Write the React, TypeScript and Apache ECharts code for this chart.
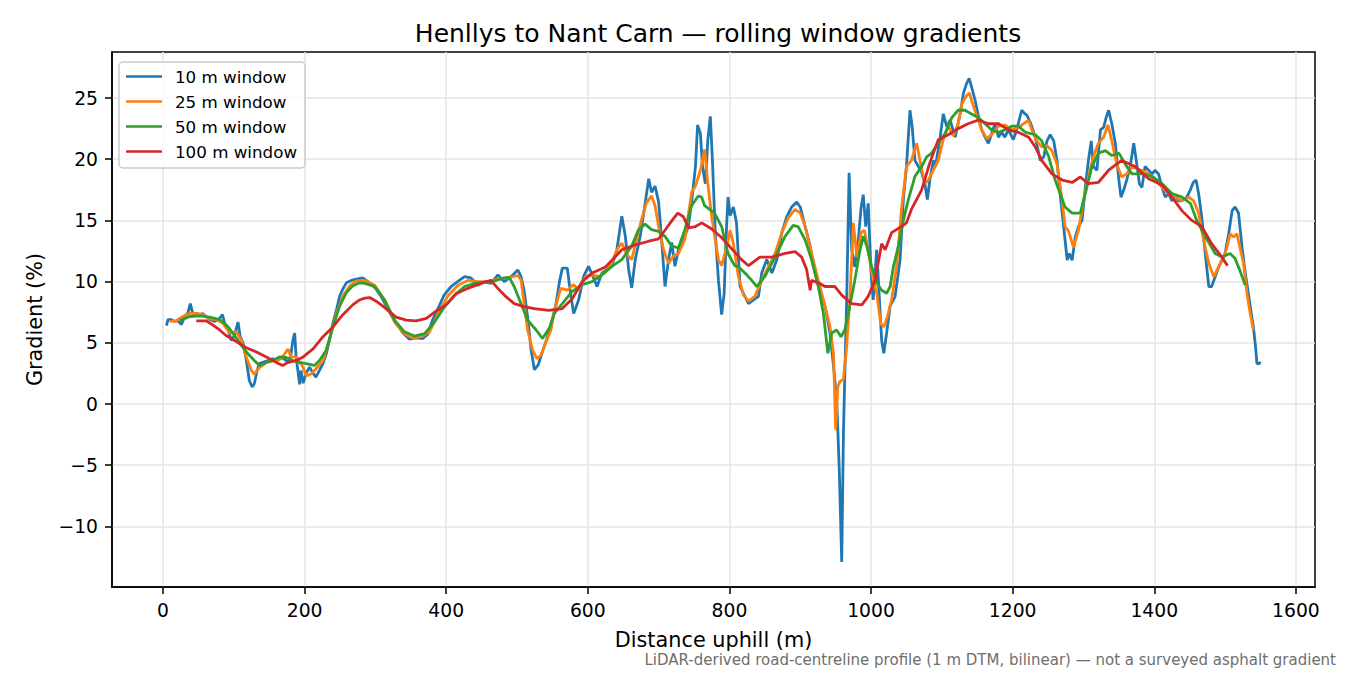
import React, { useEffect, useRef } from 'react';
import * as echarts from 'echarts';

// 10 m rolling window
const dist10 = [
  5, 7, 12, 16, 21, 26, 31, 35, 38.6, 42, 47, 52, 56, 61, 66, 73, 80, 84, 87, 92, 96.5, 101, 106, 109, 113,
  117.6, 122, 126, 129, 133, 136, 141, 148, 155, 162, 167, 174, 179, 183.5, 186, 188, 193, 195, 198, 202,
  207, 212, 216, 221, 226, 230.6, 235, 240, 245, 249.5, 254, 259, 266, 273, 282, 292, 301, 310, 320, 329,
  339, 348, 358, 367, 374, 381, 390, 397, 407, 416, 426, 435, 444.6, 454, 463, 473, 482, 491.6, 501, 505.7,
  510, 515, 520, 524.5, 530, 536, 542, 548, 554.6, 560, 564, 571, 575.6, 580, 587, 594, 601, 606, 613, 620,
  627, 634, 641, 648, 653, 657.6, 662, 667, 674, 679, 686, 690, 695, 700, 704.5, 709, 714, 718.5, 723, 728,
  735, 742, 747, 752, 755, 759, 762, 766, 769.5, 773, 776, 780, 784.5, 789, 792.5, 796, 798, 801, 805.6, 810,
  815, 820, 827, 834, 841, 845.6, 852.7, 860, 867, 874, 881, 888, 895, 900, 907, 914, 921, 928, 935, 942,
  947, 951.5, 955, 958.6, 961, 963, 965.6, 969, 972.7, 977, 982, 986, 989, 992.5, 996, 1000, 1003, 1008,
  1015, 1018, 1022, 1027, 1034, 1041, 1045.6, 1050, 1055, 1058, 1062, 1067, 1071.6, 1076, 1079.5, 1083,
  1088, 1091, 1097.6, 1102, 1107, 1111.7, 1118.8, 1125.8, 1130.5, 1135, 1138.6, 1142, 1147, 1151.7, 1156.3,
  1161, 1165.7, 1170.4, 1175, 1180, 1184.5, 1189, 1194, 1201, 1205.7, 1212.7, 1217.5, 1220, 1225, 1232,
  1239, 1244, 1248.5, 1253, 1258, 1262.6, 1267, 1272, 1277, 1280, 1284, 1288.5, 1293, 1298, 1302.6, 1307,
  1311, 1314, 1319, 1324, 1328.5, 1332, 1335.5, 1340, 1345, 1350, 1353, 1357, 1361, 1366, 1371, 1374.6,
  1379, 1382.6, 1387, 1392, 1397, 1401, 1406, 1411, 1415.5, 1420, 1425, 1429.6, 1434, 1439, 1446, 1451,
  1455, 1459, 1462.6, 1467, 1472, 1477, 1481, 1486, 1491, 1495.5, 1500, 1505, 1510, 1514, 1519, 1524,
  1528.5, 1533, 1537, 1540, 1543, 1545, 1548, 1550,
];
const grad10 = [
  6.4, 6.9, 6.9, 6.75, 6.8, 6.5, 7.2, 7.4, 8.2, 7.4, 7.4, 7.3, 7.4, 7.15, 6.9, 6.75, 7.0, 7.3, 6.6, 6.05, 5.2,
  5.6, 6.7, 5.5, 5.0, 3.6, 1.9, 1.4, 1.65, 2.75, 3.3, 3.4, 3.55, 3.7, 3.55, 3.85, 3.55, 3.4, 5.2, 5.8, 3.85,
  1.6, 2.75, 1.7, 2.5, 3.0, 2.5, 2.2, 2.75, 3.3, 4.1, 5.2, 6.6, 7.7, 8.8, 9.4, 9.9, 10.1, 10.2, 10.3, 9.9,
  9.4, 8.6, 7.5, 6.6, 5.8, 5.3, 5.4, 5.35, 5.7, 6.9, 8.0, 8.9, 9.6, 10.0, 10.4, 10.3, 9.7, 10.0, 9.86,
  10.55, 10.0, 10.4, 10.95, 10.4, 9.3, 7.1, 4.4, 2.8, 3.2, 4.3, 5.3, 6.5, 8.0, 10.0, 11.1, 11.1, 9.05, 7.4,
  8.5, 10.4, 11.25, 10.6, 9.6, 10.7, 11.0, 11.25, 12.6, 15.35, 13.7, 11.0, 9.5, 11.8, 13.7, 15.6, 18.4,
  17.3, 17.8, 16.5, 13.2, 9.6, 11.8, 13.2, 11.25, 12.6, 13.4, 14.5, 16.7, 19.4, 22.8, 22.1, 19.4, 18.0,
  21.6, 23.5, 19.9, 14.0, 10.1, 7.3, 9.0, 14.5, 16.9, 15.4, 16.1, 14.8, 9.6, 9.0, 8.2, 8.5, 8.8, 10.7, 11.8,
  10.7, 11.8, 14.0, 15.3, 16.1, 16.5, 16.1, 14.5, 12.9, 10.7, 9.05, 8.0, 5.8, 3.1, 0.35, -5.1, -12.9, -2.4,
  2.5, 8.5, 18.9, 12.6, 11.2, 13.4, 16.1, 17.1, 14.5, 16.4, 10.7, 8.5, 12.6, 5.2, 4.15, 5.8, 8.0, 8.8, 11.8,
  16.7, 19.4, 24.0, 22.7, 19.9, 19.4, 18.9, 18.0, 16.7, 18.3, 19.9, 19.4, 21.8, 23.7, 22.65, 23.2, 21.8,
  23.7, 25.4, 26.2, 26.6, 25.9, 24.8, 23.5, 22.4, 21.8, 21.3, 22.1, 22.9, 21.8, 22.2, 21.8, 22.4, 21.6,
  22.4, 24.0, 23.7, 23.6, 23.0, 21.8, 19.9, 20.2, 21.5, 22.0, 21.5, 19.9, 17.2, 14.5, 11.75, 12.3, 11.75,
  13.65, 14.5, 15.0, 17.7, 19.9, 21.5, 19.4, 19.1, 22.4, 22.6, 23.4, 24.0, 22.9, 21.3, 18.3, 16.9, 17.5,
  18.3, 19.4, 21.3, 19.9, 18.0, 17.7, 19.4, 19.1, 18.8, 19.1, 18.8, 17.7, 16.9, 17.2, 16.6, 16.9, 16.6,
  16.6, 16.9, 17.5, 18.1, 18.3, 17.2, 15.3, 12.3, 9.6, 9.6, 10.4, 11.2, 11.75, 12.3, 13.9, 15.8, 16.1, 15.6,
  12.8, 10.7, 9.0, 7.4, 6.3, 4.7, 3.3, 3.3, 3.45,
];

// 25 m rolling window
const dist25 = [
  9.4, 19, 28, 37.6, 47, 56.5, 66, 75, 84.7, 94, 103.5, 110.6, 117.6, 124.7, 129, 136.5, 146, 157.6, 167,
  176.5, 181, 188, 198, 202, 209, 216.5, 226, 235, 245, 254, 263.5, 273, 285, 299, 313, 327, 341, 353,
  364.7, 376.5, 388, 402, 416.5, 430.5, 444.6, 459, 473, 487, 501, 505.7, 510, 515, 522, 528, 534, 541, 548,
  552, 561.6, 571, 580, 587, 596.7, 606, 615.5, 625, 634, 641, 648, 655, 662, 669, 676, 683, 690, 695, 700,
  707, 714, 721, 728, 737, 746.6, 752, 759, 765, 769.5, 775, 780, 784.5, 789, 795, 801, 805.6, 812.7, 820,
  827, 836, 845.6, 855, 864.5, 874, 883, 892.7, 900, 907, 916, 925.6, 935, 942, 947, 950, 953, 956, 961,
  965.6, 970, 975, 980, 986, 990.6, 995, 1001, 1008, 1013.6, 1018, 1023, 1029, 1036, 1043, 1050, 1057,
  1064.5, 1069, 1076, 1081, 1088, 1095, 1102, 1109, 1116, 1123, 1128, 1135, 1139, 1142, 1149.4, 1156.3,
  1163.3, 1170.4, 1180, 1189, 1198.5, 1204, 1213, 1222.6, 1227, 1234, 1241, 1248.5, 1255.5, 1262.6, 1270,
  1274, 1279, 1286, 1293, 1300, 1307, 1314, 1321, 1328.5, 1334.6, 1340, 1347, 1354, 1361, 1368.5, 1375.5,
  1382.6, 1392, 1401, 1411, 1420, 1429.6, 1439, 1448.6, 1455.5, 1462.6, 1469.6, 1477, 1484, 1491, 1498,
  1502.6, 1507, 1512, 1516.7, 1521, 1526, 1531, 1535.5, 1540,
];
const grad25 = [
  6.75, 6.8, 7.15, 7.4, 7.4, 7.3, 6.95, 6.9, 6.6, 5.8, 5.9, 5.2, 3.85, 2.75, 2.45, 3.0, 3.4, 3.55, 3.7, 4.5,
  3.85, 3.85, 3.0, 2.3, 2.45, 2.9, 3.55, 5.2, 7.4, 8.8, 9.65, 10.05, 10.1, 9.7, 8.5, 6.7, 5.75, 5.4, 5.5,
  5.9, 7.3, 8.8, 9.7, 10.1, 10.0, 10.0, 10.2, 10.3, 10.5, 10.15, 8.2, 6.05, 4.4, 3.7, 4.0, 5.1, 6.05, 7.4,
  9.45, 9.3, 9.75, 9.3, 10.4, 10.55, 10.4, 10.8, 11.5, 12.6, 13.15, 12.2, 11.8, 13.45, 15.1, 16.45, 17.0,
  16.2, 14.5, 12.6, 11.5, 12.1, 12.3, 13.45, 17.3, 17.8, 19.1, 20.8, 18.0, 15.3, 13.4, 11.8, 11.3, 12.6,
  14.2, 13.1, 10.4, 8.9, 8.4, 8.8, 10.1, 11.2, 12.3, 14.0, 15.2, 15.9, 15.6, 14.5, 12.3, 10.1, 8.0, 6.3,
  4.15, -2.1, 1.4, 1.85, 2.0, 4.7, 8.5, 14.8, 12.0, 14.0, 14.2, 12.9, 10.7, 9.05, 6.6, 6.3, 7.1, 8.5, 11.2,
  15.9, 19.4, 19.9, 21.3, 19.9, 18.0, 18.3, 19.1, 19.9, 21.6, 22.7, 21.9, 22.9, 24.5, 25.2, 25.4, 24.8, 23.5,
  22.4, 21.7, 22.0, 22.7, 22.8, 22.4, 22.5, 22.8, 23.2, 22.4, 21.5, 21.0, 21.1, 20.7, 19.6, 16.6, 14.5,
  14.1, 12.8, 14.2, 16.6, 18.55, 20.2, 21.3, 21.8, 22.8, 21.5, 19.6, 18.55, 18.8, 19.4, 19.2, 19.1, 18.8,
  18.3, 17.7, 17.2, 16.9, 16.6, 16.9, 16.6, 15.6, 13.4, 11.5, 10.4, 11.2, 12.0, 12.8, 13.9, 13.65, 13.9,
  12.8, 11.5, 9.0, 7.4, 6.0,
];

// 50 m rolling window
const dist50 = [
  23.5, 37.6, 52, 66, 80, 92, 101, 110.6, 120, 129, 136.5, 146, 155, 164.7, 174, 183.5, 193, 202, 214, 221,
  230.6, 240, 249.5, 259, 268, 277.6, 285, 299, 313, 327, 341, 355, 369.5, 383.5, 397.6, 411.7, 426, 440,
  454, 468, 482, 489, 496, 505.7, 515, 527, 536, 545.7, 552.7, 564, 578, 592, 606, 620, 634, 648, 662,
  671.7, 681, 690, 700, 709, 718.5, 728, 737, 746.6, 756, 760.7, 765, 772, 779, 789, 798, 807.5, 813, 822,
  831.5, 838.6, 850, 864.5, 878.6, 890, 897, 907, 916, 925.6, 932.7, 939, 944.5, 951.5, 957.6, 963, 970,
  977, 984.5, 989, 994, 1001, 1008, 1015, 1022, 1027, 1031.5, 1038.6, 1045.6, 1052.7, 1062, 1071.5, 1078.6,
  1085.6, 1095, 1104.5, 1114, 1123, 1132.7, 1142, 1151.5, 1161, 1170, 1180, 1189, 1198.6, 1208, 1218, 1232,
  1241, 1251, 1260, 1267, 1274, 1284, 1295.5, 1302.6, 1312, 1321, 1331, 1340, 1350, 1359, 1368.5, 1382.6,
  1397, 1411, 1425, 1439, 1451, 1460, 1470, 1477, 1486, 1495.5, 1507, 1514, 1521, 1528.5,
];
const grad50 = [
  6.8, 7.15, 7.2, 7.1, 6.9, 6.3, 5.6, 4.8, 4.1, 3.55, 3.15, 3.4, 3.55, 3.85, 3.8, 3.55, 3.4, 3.3, 3.15, 3.55,
  4.4, 6.3, 8.0, 9.1, 9.65, 9.9, 9.86, 9.6, 8.5, 6.85, 5.9, 5.55, 5.75, 6.7, 7.95, 8.9, 9.6, 9.86, 9.95,
  10.05, 10.3, 10.35, 9.6, 8.2, 6.85, 6.05, 5.35, 6.2, 7.4, 8.2, 9.2, 9.75, 10.0, 10.55, 11.25, 11.8, 12.9,
  14.25, 14.7, 14.25, 14.1, 13.7, 12.9, 12.75, 14.25, 16.2, 17.0, 16.9, 16.2, 15.9, 15.6, 14.5, 12.3, 11.3,
  11.2, 10.7, 10.1, 9.6, 10.4, 12.0, 13.7, 14.6, 14.5, 13.4, 11.8, 9.6, 7.4, 4.15, 5.8, 6.05, 5.5, 6.05,
  8.0, 10.1, 12.6, 13.7, 12.9, 11.2, 9.9, 9.3, 9.05, 9.6, 11.2, 12.9, 15.0, 16.7, 18.6, 19.4, 20.2, 20.5,
  21.3, 22.1, 23.4, 24.0, 24.0, 23.7, 23.4, 22.9, 22.4, 22.2, 22.4, 22.7, 22.7, 22.2, 22.0, 21.5, 20.2, 18.3,
  17.2, 16.1, 15.6, 15.6, 17.2, 19.4, 20.5, 20.7, 20.3, 20.5, 19.6, 18.8, 18.8, 18.6, 18.0, 17.2, 16.9,
  16.4, 15.0, 13.9, 13.2, 12.3, 12.0, 12.3, 11.9, 10.9, 9.7,
];

// 100 m rolling window
const dist100 = [
  47, 61, 70.6, 80, 89, 103.5, 117.6, 132, 146, 160, 169, 176.5, 188, 198, 212, 226, 240, 254, 268, 277.6,
  285, 292, 301, 310.6, 320, 329, 343.5, 357.6, 372, 386, 400, 414, 430.5, 449, 463, 473, 482, 496, 510,
  524.5, 545, 564, 578, 592, 606, 625, 648, 667, 686, 700, 709, 719, 727, 735, 742, 752, 761, 775, 789, 803,
  817, 827, 843, 860, 878.6, 892.7, 902, 909, 914, 916, 925.6, 935, 949, 958.6, 972.7, 987, 996, 1005.6,
  1015, 1020, 1029, 1043, 1050, 1057, 1071.5, 1083, 1095, 1109, 1123, 1137, 1151.7, 1165.7, 1180, 1194,
  1208, 1222.6, 1232, 1241, 1255.5, 1270, 1284, 1295.5, 1307, 1321, 1335.5, 1354, 1373, 1392, 1411, 1425,
  1439, 1453, 1467, 1481, 1495.5, 1503.5,
];
const grad100 = [
  6.8, 6.8, 6.45, 6.05, 5.6, 5.1, 4.6, 4.25, 3.85, 3.4, 3.15, 3.4, 3.55, 3.85, 4.5, 5.5, 6.3, 7.3, 8.1, 8.5,
  8.65, 8.7, 8.4, 8.0, 7.55, 7.1, 6.85, 6.8, 7.0, 7.6, 8.1, 9.0, 9.45, 9.86, 10.1, 9.45, 8.9, 8.2, 7.95, 7.8,
  7.65, 7.8, 8.6, 10.0, 10.7, 11.2, 12.6, 13.0, 13.3, 13.5, 14.2, 15.0, 15.6, 15.3, 14.4, 14.5, 14.8, 14.3,
  13.6, 12.7, 11.8, 11.3, 12.0, 12.0, 12.3, 12.45, 12.0, 11.0, 9.3, 10.1, 9.9, 9.6, 9.6, 8.9, 8.2, 8.1, 8.8,
  10.1, 13.1, 12.6, 14.0, 14.5, 14.8, 15.9, 17.5, 19.7, 21.6, 22.0, 22.5, 22.9, 23.2, 22.9, 22.9, 22.4,
  22.2, 21.8, 21.0, 19.9, 18.8, 18.3, 18.1, 18.55, 18.0, 18.1, 19.1, 19.9, 19.4, 18.4, 17.9, 16.9, 15.8,
  15.0, 14.5, 13.1, 12.0, 11.3,
];

const xTicks = [0, 200, 400, 600, 800, 1000, 1200, 1400, 1600];
const yTicks = [-10, -5, 0, 5, 10, 15, 20, 25];
const seriesNames = ['10 m window', '25 m window', '50 m window', '100 m window'];
const seriesColors = ['#1f77b4', '#ff7f0e', '#2ca02c', '#d62728'];

const FONT = 'DejaVu Sans';

const pairs = (xs: number[], ys: number[]) => xs.map((x, i) => [x, ys[i]]);

const App: React.FC = () => {
  const chartRef = useRef<HTMLDivElement>(null);

  useEffect(() => {
    document.body.style.margin = '0';
    if (!chartRef.current) return;
    const chart = echarts.init(chartRef.current, null, { renderer: 'svg' });

    const seriesData = [
      pairs(dist10, grad10),
      pairs(dist25, grad25),
      pairs(dist50, grad50),
      pairs(dist100, grad100),
    ];

    const axisCommon = {
      type: 'value',
      nameLocation: 'middle',
      splitNumber: 8,
      nameTextStyle: { fontFamily: FONT, fontSize: 20.8, color: '#000' },
      axisLine: { show: true, onZero: false, lineStyle: { color: '#000', width: 1.5 } },
      splitLine: { show: true, lineStyle: { color: '#e4e4e4', width: 1.5 } },
    };

    chart.setOption({
      animation: false,
      backgroundColor: '#fff',
      title: {
        text: 'Henllys to Nant Carn — rolling window gradients',
        left: 713,
        top: 16,
        textAlign: 'center',
        textStyle: { fontFamily: FONT, fontSize: 25, fontWeight: 'normal', color: '#000' },
      },
      grid: {
        left: 112,
        top: 52,
        right: 35,
        bottom: 88,
        show: true,
        borderColor: '#000',
        borderWidth: 1.5,
        outerBoundsMode: 'none',
      },
      legend: {
        left: 119,
        top: 62,
        orient: 'vertical',
        icon: 'path://M0 0H70V5H0Z',
        itemWidth: 36,
        itemHeight: 17,
        itemGap: 8,
        padding: [6, 8, 8, 7],
        borderColor: '#cccccc',
        borderWidth: 1.5,
        borderRadius: 4,
        backgroundColor: 'rgba(255,255,255,0.8)',
        textStyle: { fontFamily: FONT, fontSize: 16.7, color: '#000', padding: [0, 0, 0, 8] },
        data: seriesNames,
      },
      xAxis: {
        ...axisCommon,
        min: -72,
        max: 1627,
        name: 'Distance uphill (m)',
        nameGap: 42,
        axisTick: { show: true, length: 7, lineStyle: { color: '#000', width: 1.5 }, customValues: xTicks },
        axisLabel: {
          fontFamily: FONT, fontSize: 18.75, color: '#000', margin: 14,
          customValues: xTicks,
          formatter: (v: number) => String(v),
        },
      },
      yAxis: {
        ...axisCommon,
        min: -14.95,
        max: 28.76,
        name: 'Gradient (%)',
        nameGap: 67,
        nameRotate: 90,
        axisTick: { show: true, length: 7, lineStyle: { color: '#000', width: 1.5 }, customValues: yTicks },
        axisLabel: {
          fontFamily: FONT, fontSize: 18.75, color: '#000', margin: 14,
          customValues: yTicks,
          formatter: (v: number) => (v < 0 ? '\u2212' + Math.abs(v) : String(v)),
        },
      },
      graphic: [
        {
          type: 'text',
          right: 14,
          top: 652,
          style: {
            text: 'LiDAR-derived road-centreline profile (1 m DTM, bilinear) — not a surveyed asphalt gradient',
            font: '15px "DejaVu Sans"',
            fill: '#6e6e6e',
          },
        },
      ],
      series: seriesNames.map((name, i) => ({
        name,
        type: 'line',
        data: seriesData[i],
        showSymbol: false,
        symbol: 'none',
        color: seriesColors[i],
        lineStyle: { color: seriesColors[i], width: 2.8 },
      })),
    });

    return () => {
      chart.dispose();
    };
  }, []);

  return <div ref={chartRef} style={{ width: '1350px', height: '675px' }}></div>;
};

export default App;
